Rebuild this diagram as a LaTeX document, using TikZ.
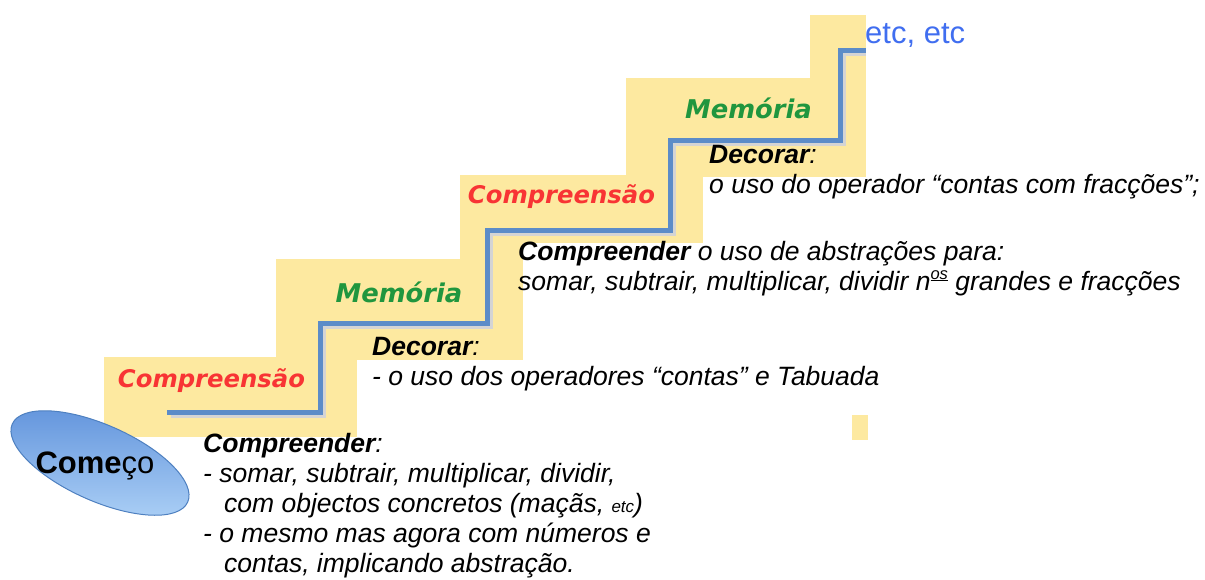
\documentclass[tikz,border=0pt]{standalone}
\usepackage{fontspec}
\setmainfont{Liberation Sans}
\newfontfamily\lblfont{DejaVu Sans}
\usetikzlibrary{shapes.geometric}
\definecolor{stepyellow}{RGB}{253,233,160}
\definecolor{stairblue}{RGB}{92,140,200}
\definecolor{stairshadow}{RGB}{212,212,212}
\definecolor{redlbl}{RGB}{248,52,52}
\definecolor{greenlbl}{RGB}{32,150,62}
\definecolor{etcblue}{RGB}{64,110,240}
\definecolor{ellA}{RGB}{98,148,220}
\definecolor{ellB}{RGB}{172,208,246}
\definecolor{ellborder}{RGB}{78,128,192}
\begin{document}
\begin{tikzpicture}[x=1pt,y=-1pt,
  body/.style={anchor=base west, inner sep=0pt, font=\fontsize{26.5}{30}\selectfont\itshape},
  redlabel/.style={anchor=base, inner sep=0pt, text=redlbl, font=\lblfont\fontsize{24.3}{28}\selectfont\bfseries\itshape},
  greenlabel/.style={anchor=base, inner sep=0pt, text=greenlbl, font=\lblfont\fontsize{25.8}{28}\selectfont\bfseries\itshape},
  stairline/.style={stairblue, line width=5pt, line join=miter},
  stairshade/.style={stairshadow, line width=4pt, line join=miter},
]
\useasboundingbox (0,0) rectangle (1205,579);
\fill[white] (0,0) rectangle (1205,579);
% yellow steps
\fill[stepyellow] (104,357) rectangle (357,437);
\fill[stepyellow] (276,259) rectangle (523,360);
\fill[stepyellow] (460,175) rectangle (703,243);
\fill[stepyellow] (460,175) rectangle (523,360);
\fill[stepyellow] (626,78) rectangle (866,177);
\fill[stepyellow] (810,15) rectangle (866,78);
\fill[stepyellow] (852,415) rectangle (868,440);
% stair line
\draw[stairshade] (171,416) -- (324,416) -- (324,327) -- (491,327) -- (491,234) -- (674,234) -- (674,144) -- (844,144) -- (844,54) -- (866,54);
\draw[stairline] (167,412) -- (320,412) -- (320,323) -- (487,323) -- (487,230) -- (670,230) -- (670,140) -- (840,140) -- (840,50) -- (866,50);
% step labels
\node[redlabel] (comp1) at (211.5,387) {Compreensão};
\node[greenlabel] (mem1) at (399,302) {Memória};
\node[redlabel] (comp2) at (561.5,203) {Compreensão};
\node[greenlabel] (mem2) at (748.5,118) {Memória};
% start ellipse
\node[ellipse, draw=ellborder, line width=1pt, minimum width=192pt, minimum height=76pt, inner sep=0pt, rotate=-24, top color=ellA, bottom color=ellB] (startshape) at (100,463) {};
\node[anchor=base, inner sep=0pt, font=\fontsize{31}{36}\selectfont] (startlbl) at (95,473) {\textbf{Come}ço};
% etc
\node[anchor=base west, inner sep=0pt, text=etcblue, font=\fontsize{31}{36}\selectfont] (etc) at (865,43) {etc, etc};
% text blocks
\node[body] (txt1) at (203,452) {\parbox[t]{600pt}{\textbf{Compreender}:\\
- somar, subtrair, multiplicar, dividir,\\
\hspace*{21pt}com objectos concretos (maçãs, {\fontsize{17}{20}\selectfont etc})\\
- o mesmo mas agora com números e\\
\hspace*{21pt}contas, implicando abstração.}};
\node[body] (txt2) at (372,355) {\parbox[t]{600pt}{\textbf{Decorar}:\\
- o uso dos operadores “contas” e Tabuada}};
\node[body] (txt3) at (518,260) {\parbox[t]{700pt}{\textbf{Compreender} o uso de abstrações para:\\
somar, subtrair, multiplicar, dividir n\raisebox{11pt}{\fontsize{16.5}{18}\selectfont\underline{os}} grandes e fracções}};
\node[body] (txt4) at (709,163) {\parbox[t]{500pt}{\textbf{Decorar}:\\
o uso do operador “contas com fracções”;}};
\end{tikzpicture}
\end{document}
